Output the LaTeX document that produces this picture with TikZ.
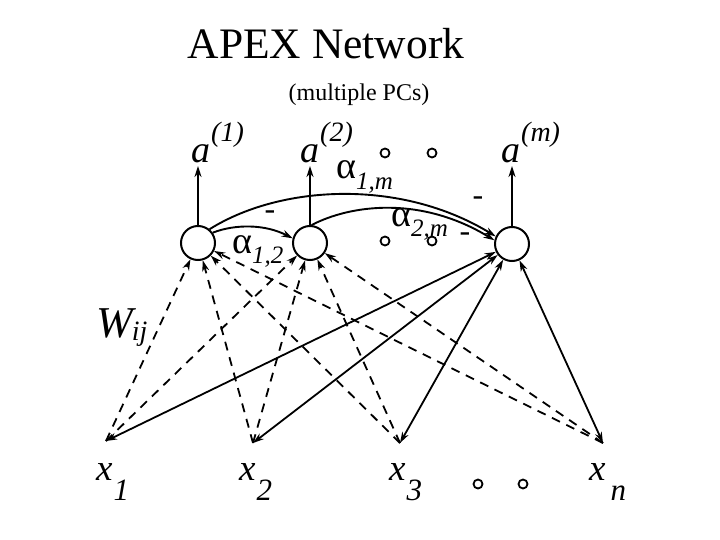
\documentclass[tikz,border=0pt]{standalone}
\usepackage{fontspec}
\setmainfont{Liberation Serif}
\usetikzlibrary{arrows.meta}
\newcommand{\fsz}[1]{\fontsize{#1}{#1}\selectfont}
\begin{document}
\begin{tikzpicture}[x=1pt,y=-1pt,
  lbl/.style={inner sep=0pt,anchor=base west},
  neuron/.style={circle,draw,line width=2pt,minimum size=34pt,inner sep=0pt},
  dotc/.style={circle,draw,line width=1.8pt,minimum size=9pt,inner sep=0pt},
  tip/.style={-{Stealth[length=11pt,width=7pt]}},
  conn/.style={line width=1.9pt},
  dconn/.style={line width=1.8pt,dash pattern=on 9pt off 7pt,-{Stealth[length=11pt,width=7pt]}},
  sconn/.style={line width=1.8pt,{Stealth[length=11pt,width=7pt]}-{Stealth[length=11pt,width=7pt]}}]
\useasboundingbox (0,0) rectangle (720,540);
% titles
\node[inner sep=0pt,anchor=base] (title) at (326,59) {\fsz{43.5}APEX Network};
\node[inner sep=0pt,anchor=base] (sub) at (359,101) {\fsz{24}(multiple PCs)};
% neurons
\node[neuron] (n1) at (198,243) {};
\node[neuron] (n2) at (310,243) {};
\node[neuron] (nm) at (512,244) {};
% output arrows
\coordinate (o1) at (198,166);
\coordinate (o2) at (310,166);
\coordinate (om) at (512,166);
\draw[conn,tip] (n1.north) -- (o1);
\draw[conn,tip] (n2.north) -- (o2);
\draw[conn,tip] (nm.north) -- (om);
% output labels
\node[lbl] (a1) at (191,163) {\fsz{38}\itshape a\kern1pt\raisebox{21pt}{\fsz{28}(1)}};
\node[lbl] (a2) at (300,163) {\fsz{38}\itshape a\kern1pt\raisebox{21pt}{\fsz{28}(2)}};
\node[lbl] (am) at (501,163) {\fsz{38}\itshape a\kern1pt\raisebox{21pt}{\fsz{28}(m)}};
% lateral connections
\draw[conn,tip] (n1.35) .. controls (235,224) and (265,224) .. (n2.165);
\draw[conn,tip] (n1.50) .. controls (280,185) and (400,178) .. (nm.155);
\draw[conn,tip] (n2.85) .. controls (350,205) and (420,195) .. (nm.168);
% lateral labels
\node[lbl] (al12) at (232,253) {\fsz{38}α\raisebox{-10pt}{\fsz{25}\itshape 1,2}};
\node[lbl] (al1m) at (336,179) {\fsz{38}α\raisebox{-10pt}{\fsz{25}\itshape 1,m}};
\node[lbl] (al2m) at (391,226) {\fsz{38}α\raisebox{-10pt}{\fsz{25}\itshape 2,m}};
\node[inner sep=0pt] (m1) at (270,215) {\fsz{32}-};
\node[inner sep=0pt] (m2) at (478,201) {\fsz{32}-};
\node[inner sep=0pt] (m3) at (465,237) {\fsz{32}-};
% ellipsis circles
\node[dotc] (d1) at (385,153) {};
\node[dotc] (d2) at (432,153) {};
\node[dotc] (d3) at (385,241) {};
\node[dotc] (d4) at (432,241) {};
\node[dotc] (d5) at (478,484) {};
\node[dotc] (d6) at (523,484) {};
% inputs
\coordinate (x1) at (106,441);
\coordinate (x2) at (253,443);
\coordinate (x3) at (400,443);
\coordinate (xn) at (603,443);
\foreach \x in {x1,x2,x3,xn}{
  \draw[dconn] (\x) -- (n1);
  \draw[dconn] (\x) -- (n2);
  \draw[sconn] (\x) -- (nm);
}
% input labels
\node[lbl] (lx1) at (96,480) {\fsz{37}\itshape x\kern1pt\raisebox{-20pt}{\fsz{31}1}};
\node[lbl] (lx2) at (239,480) {\fsz{37}\itshape x\kern1pt\raisebox{-20pt}{\fsz{31}2}};
\node[lbl] (lx3) at (389,480) {\fsz{37}\itshape x\kern1pt\raisebox{-20pt}{\fsz{31}3}};
\node[lbl] (lxn) at (589,480) {\fsz{37}\itshape x\kern5pt\raisebox{-20pt}{\fsz{31}n}};
\node[lbl] (w) at (96,337) {\fsz{44}\itshape W\kern-1pt\raisebox{-3pt}{\fsz{28}ij}};
\end{tikzpicture}
\end{document}
